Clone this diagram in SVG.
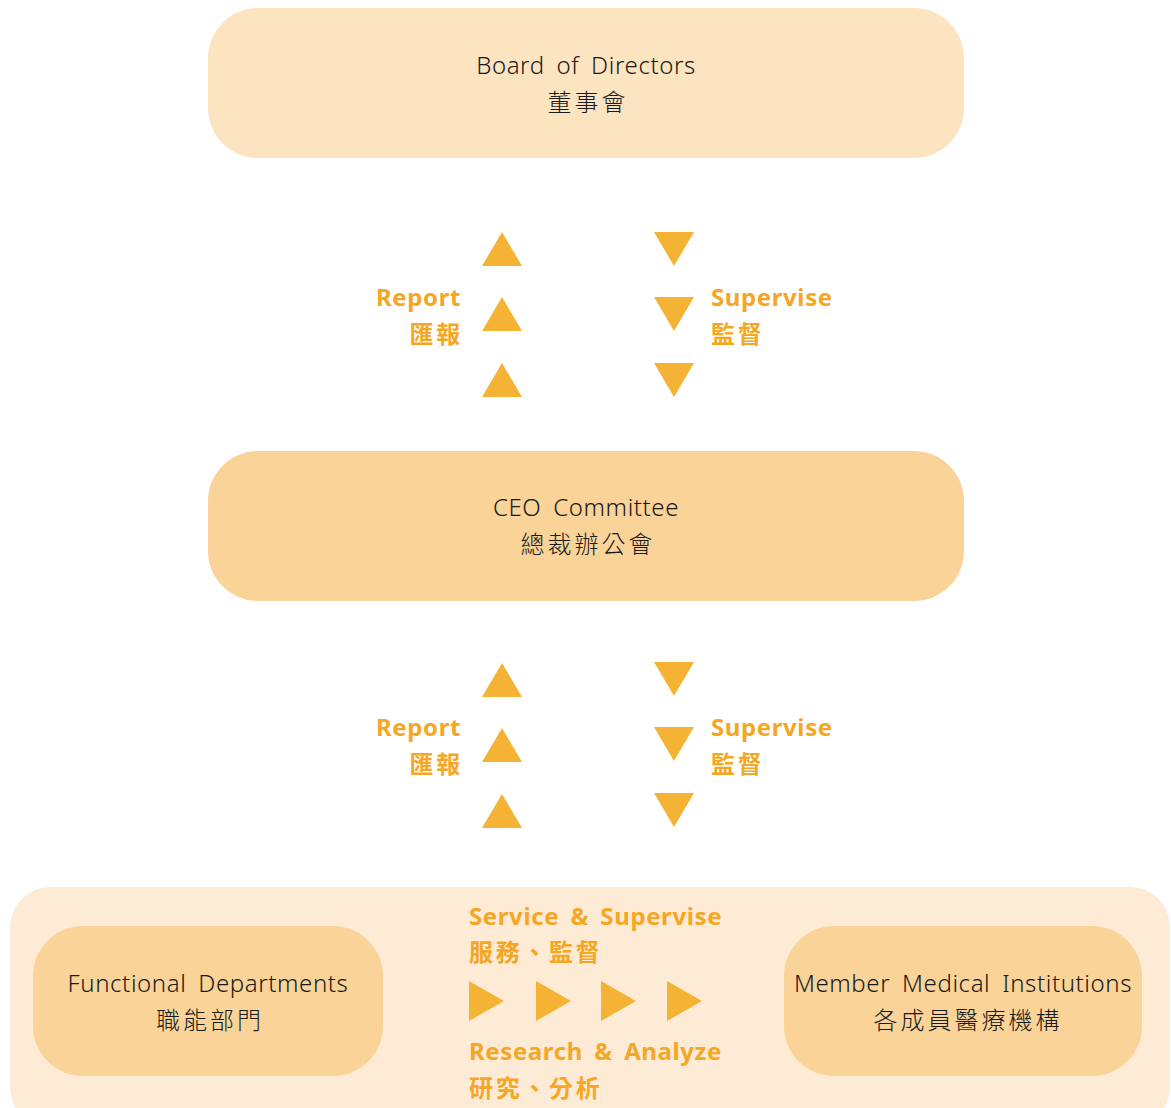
<svg xmlns="http://www.w3.org/2000/svg" width="1171" height="1108" viewBox="0 0 1171 1108">
<style>
.node text{font-family:"Noto Sans","Noto Sans CJK TC",sans-serif;font-size:24px;font-weight:300;fill:#1a1a1a;text-anchor:middle;letter-spacing:0.6px;word-spacing:5px}
.node text.cjk{letter-spacing:3px}
.lbl{font-family:"Noto Sans","Noto Sans CJK TC",sans-serif;font-size:24px;font-weight:700;fill:#F5A623;letter-spacing:0.6px;word-spacing:4.5px}
.lbl.cjk{letter-spacing:2.7px}
.tri{fill:#F4B334}
</style>
<defs>
<polygon id="up" points="-20,17 20,17 0,-17"/>
<polygon id="dn" points="-20,-17 20,-17 0,17"/>
<polygon id="rt" points="-17,-20 -17,20 18,0"/>
</defs>
<rect x="10" y="887" width="1160" height="240" rx="40" fill="#FDEBD6"/>
<g id="board" class="node">
<rect x="208" y="8" width="756" height="150" rx="50" fill="#FDE4C0"/>
<text x="586" y="74">Board of Directors</text>
<text class="cjk" x="588" y="111">董事會</text>
</g>
<g id="ceo" class="node">
<rect x="208" y="451" width="756" height="150" rx="50" fill="#F9D398"/>
<text x="586" y="516">CEO Committee</text>
<text class="cjk" x="588" y="553">總裁辦公會</text>
</g>
<g id="functional" class="node">
<rect x="33" y="926" width="350" height="150" rx="50" fill="#F9D398"/>
<text x="208" y="992">Functional Departments</text>
<text class="cjk" x="210" y="1029">職能部門</text>
</g>
<g id="member" class="node">
<rect x="784" y="926" width="358" height="150" rx="50" fill="#F9D398"/>
<text x="963" y="992">Member Medical Institutions</text>
<text class="cjk" x="968" y="1029">各成員醫療機構</text>
</g>
<g id="connectors">
<g class="tri">
<use href="#up" x="502" y="249"/><use href="#up" x="502" y="314"/><use href="#up" x="502" y="380"/>
<use href="#dn" x="674" y="249"/><use href="#dn" x="674" y="314"/><use href="#dn" x="674" y="380"/>
<use href="#up" x="502" y="680"/><use href="#up" x="502" y="745"/><use href="#up" x="502" y="811"/>
<use href="#dn" x="674" y="679"/><use href="#dn" x="674" y="744"/><use href="#dn" x="674" y="810"/>
<use href="#rt" x="486" y="1001"/><use href="#rt" x="553" y="1001"/><use href="#rt" x="618" y="1001"/><use href="#rt" x="684" y="1001"/>
</g>
<text class="lbl" x="461" y="306" text-anchor="end">Report</text>
<text class="lbl cjk" x="463" y="343" text-anchor="end">匯報</text>
<text class="lbl" x="711" y="306">Supervise</text>
<text class="lbl cjk" x="711" y="343">監督</text>
<text class="lbl" x="461" y="736" text-anchor="end">Report</text>
<text class="lbl cjk" x="463" y="773" text-anchor="end">匯報</text>
<text class="lbl" x="711" y="736">Supervise</text>
<text class="lbl cjk" x="711" y="773">監督</text>
<text class="lbl" x="469" y="925">Service &amp; Supervise</text>
<text class="lbl cjk" x="469" y="961">服務、監督</text>
<text class="lbl" x="469" y="1060">Research &amp; Analyze</text>
<text class="lbl cjk" x="469" y="1097">研究、分析</text>
</g>
</svg>
